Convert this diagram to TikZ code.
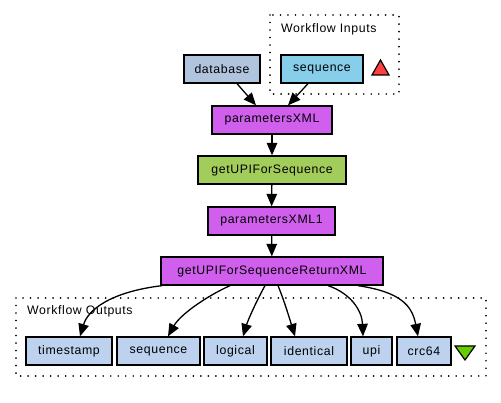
\documentclass[tikz,border=0pt]{standalone}
\usepackage{fontspec}
\setmainfont{Liberation Sans}[LetterSpace=5]
\usetikzlibrary{arrows.meta}
\definecolor{procxml}{HTML}{D15FEE}
\definecolor{wsdl}{HTML}{A2CD5A}
\definecolor{inp}{HTML}{87CEEB}
\definecolor{const}{HTML}{B0C4DE}
\definecolor{outp}{HTML}{BCD2EE}
\definecolor{redtri}{HTML}{FF4040}
\definecolor{greentri}{HTML}{66CD00}
\tikzset{
  box/.style={draw=black, line width=1.3pt, minimum height=28pt, inner sep=0pt, font=\fontsize{12.3}{14}\selectfont, anchor=center},
  grp/.style={draw=black, line width=1.8pt, dash pattern=on 0.01pt off 7.5pt, line cap=round},
  arr/.style={line width=1.3pt, -{Triangle[length=12.5pt,width=10.5pt]}},
  tri/.style={draw=black, line width=1.2pt},
  lbl/.style={font=\fontsize{12.3}{14}\selectfont, inner sep=0pt}
}
\begin{document}
\begin{tikzpicture}[x=1pt,y=-1pt]
\useasboundingbox (0,0) rectangle (501,403);
% groups
\draw[grp] (270,15) rectangle (399,94);
\node[lbl, anchor=west] (inlbl) at (281,29) {Workflow Inputs};
\draw[grp] (16,298) rectangle (486,376);
\node[lbl, anchor=west] (outlbl) at (27,311) {Workflow Outputs};
% nodes
\node[box, fill=const, minimum width=76pt] (db) at (222,69) {database};
\node[box, fill=inp, minimum width=82pt] (seqin) at (322,69) {sequence};
\node[box, fill=procxml, minimum width=120pt] (px) at (272,120) {parametersXML};
\node[box, fill=wsdl, minimum width=148pt] (gu) at (272,170) {getUPIForSequence};
\node[box, fill=procxml, minimum width=127pt] (px1) at (271.5,221) {parametersXML1};
\node[box, fill=procxml, minimum width=222pt] (ret) at (272,271) {getUPIForSequenceReturnXML};
\node[box, fill=outp, minimum width=86pt] (ts) at (69,351) {timestamp};
\node[box, fill=outp, minimum width=83pt] (oseq) at (158.5,351) {sequence};
\node[box, fill=outp, minimum width=63pt] (lg) at (235.5,351) {logical};
\node[box, fill=outp, minimum width=76pt] (idn) at (309,351) {identical};
\node[box, fill=outp, minimum width=41pt] (upi) at (371.5,351) {upi};
\node[box, fill=outp, minimum width=54pt] (crc) at (424,351) {crc64};
% triangles
\draw[tri, fill=redtri] (372,75) -- (389,75) -- (380.5,60) -- cycle;
\draw[tri, fill=greentri] (455,346) -- (475,346) -- (465,360) -- cycle;
% edges
\draw[arr] (db.south -| 237,0) -- (px.north -| 256,0);
\draw[arr] (seqin.south -| 308,0) -- (px.north -| 288,0);
\draw[arr] (px) -- (gu);
\draw[arr] (gu) -- (px1);
\draw[arr] (px1) -- (ret);
\draw[arr] (ret.south -| 162,0) .. controls (110,292) and (88,310) .. (ts.north -| 80,0);
\draw[arr] (ret.south -| 230,0) .. controls (205,297) and (180,315) .. (oseq.north -| 168,0);
\draw[arr] (ret.south -| 265,0) .. controls (257,300) and (248,320) .. (lg.north -| 243,0);
\draw[arr] (ret.south -| 278,0) .. controls (284,300) and (290,320) .. (idn.north -| 295,0);
\draw[arr] (ret.south -| 328,0) .. controls (350,293) and (362,310) .. (upi.north -| 363,0);
\draw[arr] (ret.south -| 358,0) .. controls (400,292) and (412,305) .. (crc.north -| 418,0);
\end{tikzpicture}
\end{document}
